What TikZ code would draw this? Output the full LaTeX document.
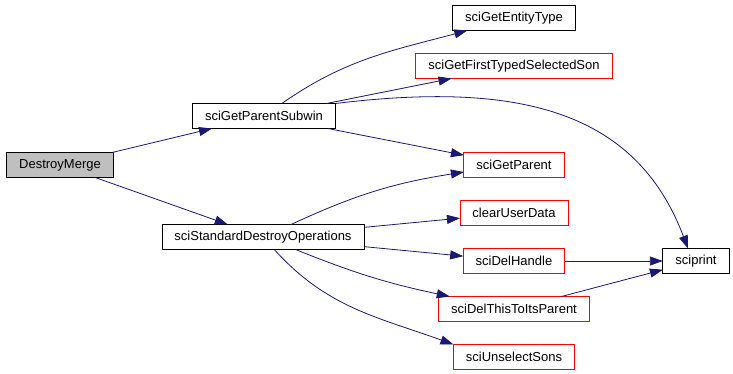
\documentclass[tikz,border=0pt]{standalone}
\usepackage{fontspec}
\setmainfont{Liberation Sans}
\usetikzlibrary{arrows.meta,positioning}
\definecolor{callnavy}{HTML}{191970}
\definecolor{rootgray}{HTML}{BFBFBF}

\begin{document}
\begin{tikzpicture}[
  x=1pt, y=1pt,
  font=\fontsize{13}{15}\selectfont,
  node distance=23pt,
  fn/.style={draw=black, line width=0.9pt, rectangle, minimum height=25pt, inner xsep=12.5pt, inner ysep=0pt, outer sep=0pt, fill=white},
  fnred/.style={fn, draw=red},
  call/.style={draw=callnavy, line width=0.8pt, -{Triangle[length=13pt,width=9pt]}}
]
\useasboundingbox (0,0) rectangle (733,373);

\node[fn, fill=rootgray] (merge) at (60,208) {DestroyMerge};
\node[fn] (subwin) at (264,257) {sciGetParentSubwin};
\node[fn] (stdops) at (263,136) {sciStandardDestroyOperations};

\node[fn] (etype) at (514,355) {sciGetEntityType};
\node[fnred, below=of etype] (firstson) {sciGetFirstTypedSelectedSon};
\node[fnred] (parent) at (514,208) {sciGetParent};
\node[fnred, below=of parent] (clear) {clearUserData};
\node[fnred, below=of clear] (delh) {sciDelHandle};
\node[fnred, below=of delh] (delparent) {sciDelThisToItsParent};
\node[fnred, below=of delparent] (unsel) {sciUnselectSons};
\node[fn] (print) at (696,112) {sciprint};

\draw[call] (merge) -- (subwin);
\draw[call] (merge) -- (stdops);

\draw[call] (subwin) to[out=35, in=195] (etype);
\draw[call] (subwin) -- (firstson);
\draw[call] (subwin.north east) .. controls (520,292) and (636,262) .. ([xshift=-8pt]print.north);
\draw[call] (subwin) -- (parent);

\draw[call] (stdops) to[bend left=8] (parent);
\draw[call] (stdops) -- (clear);
\draw[call] (stdops) -- (delh);
\draw[call] (stdops) to[bend right=5] (delparent);
\draw[call] (stdops) to[out=-48, in=160] (unsel.north west);

\draw[call] (delh) -- (print);
\draw[call] (delparent) -- (print);
\end{tikzpicture}
\end{document}
